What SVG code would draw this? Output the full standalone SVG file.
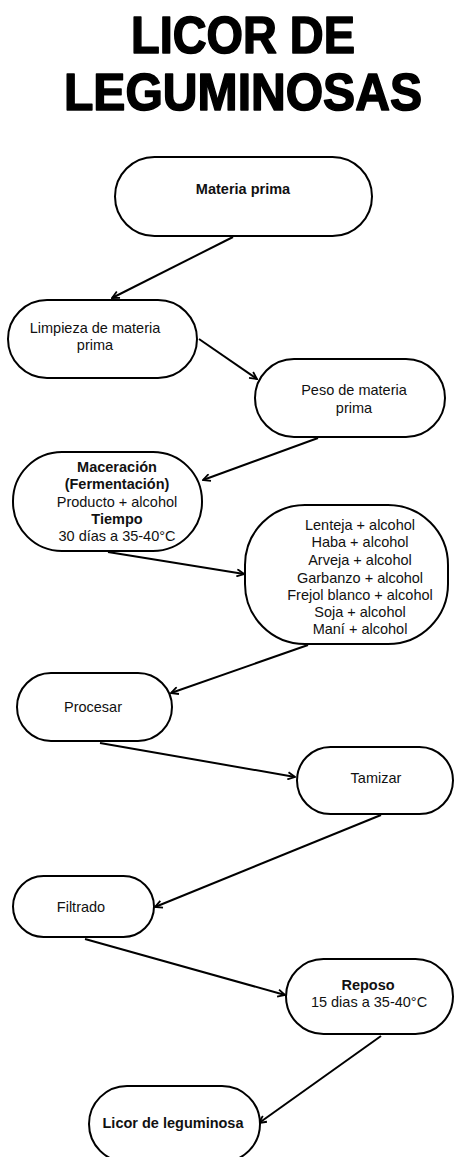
<svg xmlns="http://www.w3.org/2000/svg" width="456" height="1157" viewBox="0 0 456 1157">
<defs>
<style>
.node{fill:#fff;stroke:#000;stroke-width:2}
.t{font-family:"Liberation Sans",Arial,sans-serif;font-size:14.5px;fill:#111;text-anchor:middle}
.b{font-weight:bold}
.title{font-family:"Liberation Sans",Arial,sans-serif;font-weight:900;font-size:52px;fill:#000;stroke:#000;stroke-width:1.6;stroke-linejoin:round;text-anchor:middle}
.c{fill:none;stroke:#000;stroke-width:2}
</style>
<marker id="ah" viewBox="0 0 10 10" refX="9" refY="5" markerWidth="9" markerHeight="9" markerUnits="userSpaceOnUse" orient="auto">
<path d="M1,1 L9,5 L1,9" fill="none" stroke="#000" stroke-width="2"/>
</marker>
</defs>
<rect width="456" height="1157" fill="#fff"/>
<g id="title">
<text class="title" x="243" y="53" textLength="224" lengthAdjust="spacingAndGlyphs">LICOR DE</text>
<text class="title" x="243" y="110" textLength="358" lengthAdjust="spacingAndGlyphs">LEGUMINOSAS</text>
</g>
<g id="connectors">
<line class="c" x1="233" y1="237" x2="112" y2="298" marker-end="url(#ah)"/>
<line class="c" x1="199" y1="339" x2="257" y2="379" marker-end="url(#ah)"/>
<line class="c" x1="318" y1="438" x2="203" y2="480" marker-end="url(#ah)"/>
<line class="c" x1="108" y1="552" x2="244" y2="574" marker-end="url(#ah)"/>
<line class="c" x1="308" y1="645" x2="171" y2="693" marker-end="url(#ah)"/>
<line class="c" x1="100" y1="743" x2="295" y2="777" marker-end="url(#ah)"/>
<line class="c" x1="381" y1="815" x2="155" y2="907" marker-end="url(#ah)"/>
<line class="c" x1="85" y1="939" x2="285" y2="995" marker-end="url(#ah)"/>
<line class="c" x1="381" y1="1036" x2="259" y2="1123" marker-end="url(#ah)"/>
</g>
<g id="n1">
<rect class="node" x="115" y="157" width="257" height="79" rx="39.5"/>
<text class="t b" x="243" y="194">Materia prima</text>
</g>
<g id="n2">
<rect class="node" x="8" y="300" width="189" height="78" rx="39"/>
<text class="t" x="95" y="333">Limpieza de materia</text>
<text class="t" x="95" y="350">prima</text>
</g>
<g id="n3">
<rect class="node" x="255" y="359" width="190" height="78" rx="39"/>
<text class="t" x="354" y="395">Peso de materia</text>
<text class="t" x="354" y="413">prima</text>
</g>
<g id="n4">
<rect class="node" x="13" y="452" width="189" height="99" rx="49"/>
<text class="t b" x="117" y="472">Maceración</text>
<text class="t b" x="117" y="489">(Fermentación)</text>
<text class="t" x="117" y="507">Producto + alcohol</text>
<text class="t b" x="117" y="524">Tiempo</text>
<text class="t" x="117" y="541">30 días a 35-40°C</text>
</g>
<g id="n5">
<rect class="node" x="245" y="505" width="203" height="139" rx="60"/>
<text class="t" x="360" y="530">Lenteja + alcohol</text>
<text class="t" x="360" y="547">Haba + alcohol</text>
<text class="t" x="360" y="565">Arveja + alcohol</text>
<text class="t" x="360" y="583">Garbanzo + alcohol</text>
<text class="t" x="360" y="600">Frejol blanco + alcohol</text>
<text class="t" x="360" y="617">Soja + alcohol</text>
<text class="t" x="360" y="634">Maní + alcohol</text>
</g>
<g id="n6">
<rect class="node" x="17" y="673" width="155" height="68" rx="34"/>
<text class="t" x="93" y="712">Procesar</text>
</g>
<g id="n7">
<rect class="node" x="297" y="747" width="156" height="67" rx="33.5"/>
<text class="t" x="376" y="783">Tamizar</text>
</g>
<g id="n8">
<rect class="node" x="13" y="876" width="141" height="61" rx="30.5"/>
<text class="t" x="81" y="912">Filtrado</text>
</g>
<g id="n9">
<rect class="node" x="286" y="959" width="167" height="75" rx="37.5"/>
<text class="t b" x="368" y="990">Reposo</text>
<text class="t" x="369" y="1007">15 dias a 35-40°C</text>
</g>
<g id="n10">
<rect class="node" x="89" y="1086" width="171" height="76" rx="38"/>
<text class="t b" x="173" y="1128">Licor de leguminosa</text>
</g>
</svg>
